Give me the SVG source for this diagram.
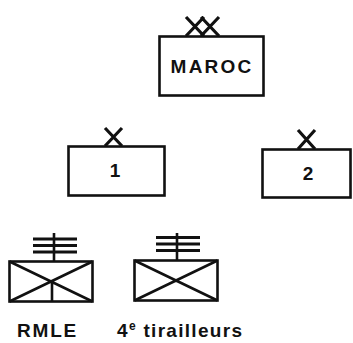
<svg xmlns="http://www.w3.org/2000/svg" width="353" height="343" viewBox="0 0 353 343">
<style>
.box{fill:#fff;stroke:#111;stroke-width:2.6}
.ln{stroke:#111;stroke-width:2.6;fill:none;stroke-linecap:butt}
.x{stroke:#111;stroke-width:3.2;fill:none}
.bar{stroke:#111;stroke-width:3;fill:none}
.t{font-family:"Liberation Sans",Arial,sans-serif;font-weight:bold;fill:#111;font-size:19px}
</style>
<rect width="353" height="343" fill="#fff"/>
<g id="maroc">
<rect class="box" x="159.5" y="36.5" width="104" height="59"/>
<path class="x" d="M186,17 L204,36 M204,17 L186,36 M201,17 L219,36 M219,17 L201,36"/>
<text class="t" x="212" y="73" text-anchor="middle" letter-spacing="2.2">MAROC</text>
</g>
<g id="brigade1">
<rect class="box" x="68.5" y="146.5" width="96" height="49"/>
<path class="x" d="M105,128 L122,146 M122,128 L105,146"/>
<text class="t" x="115" y="177" text-anchor="middle">1</text>
</g>
<g id="brigade2">
<rect class="box" x="262.5" y="149.5" width="88" height="48"/>
<path class="x" d="M298,130 L315,149 M315,130 L298,149"/>
<text class="t" x="308" y="180" text-anchor="middle">2</text>
</g>
<g id="rmle">
<rect class="box" x="9.5" y="261.5" width="83" height="40"/>
<path class="ln" d="M9.5,261.5 L92.5,301.5 M92.5,261.5 L9.5,301.5 M52,281.5 L52,301.5 M54,233 L54,261"/>
<path class="bar" d="M33,239 H77 M33,245.5 H77 M33,252 H77"/>
<text class="t" x="17" y="337" letter-spacing="1.8">RMLE</text>
</g>
<g id="tirailleurs">
<rect class="box" x="134.5" y="260.5" width="83" height="40"/>
<path class="ln" d="M134.5,260.5 L217.5,300.5 M217.5,260.5 L134.5,300.5 M177,233 L177,260"/>
<path class="bar" d="M156,237.5 H200 M156,244 H200 M156,250.5 H200"/>
<text class="t" x="117" y="337" letter-spacing="1.3">4<tspan font-size="12" dy="-7">e</tspan><tspan dy="7"> tirailleurs</tspan></text>
</g>
</svg>
